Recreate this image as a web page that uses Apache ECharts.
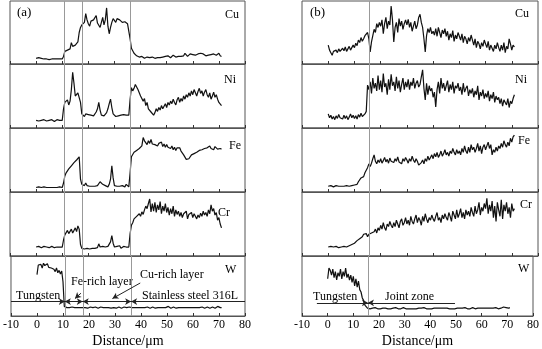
<!DOCTYPE html>
<html>
<head>
<meta charset="utf-8">
<script src="https://cdn.jsdelivr.net/npm/echarts@6/dist/echarts.min.js"></script>
<style>
  html, body { margin: 0; padding: 0; background: #fff; }
  #chart { width: 542px; height: 349px; }
</style>
</head>
<body>
<div id="chart"></div>
<script>
// EDS line scans across W / 316L joints, sampled every 0.5 μm from 0 to 71 μm
const X_START = 0;
const X_STEP = 0.5;

const elements = ['Cu', 'Ni', 'Fe', 'Cr', 'W'];

// (a) relative intensity, 0-100 of each strip
const aCu = [
  9,8,10,8,9,7,8,9,8,8,
  7,8,8,7,8,7,8,7,8,8,
  8,12,20,18,22,21,24,34,28,26,
  30,27,35,50,58,62,60,66,80,70,
  64,60,68,66,70,72,77,65,62,58,
  66,74,62,70,89,60,48,58,66,72,
  69,66,72,74,70,68,66,64,67,65,
  64,63,40,25,22,17,14,13,12,11,
  10,12,11,9,10,11,12,10,9,11,
  10,9,11,10,12,10,9,11,10,12,
  11,13,11,10,12,14,12,11,13,12,
  14,12,15,13,17,14,12,15,16,13,
  15,17,14,13,16,15,17,14,16,15,
  13,16,14,17,15,13,16,18,14,15,
  17,13,12
];
const aNi = [
  12,14,11,13,12,10,13,12,11,13,
  12,11,13,12,10,12,13,11,12,11,
  12,30,40,38,44,36,42,60,87,70,
  50,48,55,52,40,22,20,18,22,19,
  21,18,20,22,19,21,25,30,40,28,
  20,22,19,21,24,30,38,45,32,22,
  20,18,21,19,22,20,18,21,19,20,
  22,20,45,63,58,62,68,64,60,55,
  50,52,42,46,35,40,30,33,25,28,
  20,24,30,26,32,28,35,30,34,38,
  32,40,36,42,38,45,40,36,44,48,
  40,46,42,50,45,52,48,55,50,58,
  52,60,55,50,57,62,54,58,50,56,
  60,52,48,55,45,50,56,48,52,45,
  40,38,35
];
const aFe = [
  7,7,8,7,7,7,8,7,7,7,
  7,7,7,8,7,7,7,7,8,7,
  7,14,25,30,33,36,38,41,44,46,
  48,50,53,55,20,12,9,10,14,10,
  8,9,8,9,10,9,8,10,12,16,
  19,12,9,10,9,8,12,20,41,22,
  10,8,9,8,9,8,10,9,8,12,
  9,8,30,55,58,62,60,65,63,68,
  66,72,85,80,78,74,80,76,82,75,
  78,74,77,72,76,73,78,71,75,70,
  74,70,73,68,72,66,70,65,69,67,
  69,64,62,58,55,51,54,52,55,58,
  56,60,58,62,60,65,63,66,64,68,
  65,69,67,72,68,70,66,71,69,67,
  70,68,67
];
const aCr = [
  14,13,15,14,13,14,15,13,14,14,
  13,14,15,14,13,15,14,13,14,15,
  14,25,33,36,40,35,38,42,36,40,
  44,38,47,42,18,12,15,11,13,12,
  14,11,13,12,15,12,14,13,19,14,
  12,15,13,14,12,15,18,22,32,20,
  14,12,15,13,16,12,14,15,13,14,
  12,14,35,48,52,58,55,62,60,66,
  62,69,65,72,78,74,82,89,69,82,
  70,84,68,80,72,85,66,78,70,82,
  68,76,64,74,66,78,62,72,65,70,
  62,68,60,66,64,70,58,65,62,68,
  60,66,62,58,64,60,67,62,70,64,
  68,62,72,66,80,70,74,64,68,56,
  60,50,44
];
const aW = [
  69,85,82,86,80,88,84,82,87,81,
  84,80,83,78,74,80,72,76,70,75,
  57,16,15,14,15,14,13,15,14,14,
  15,14,13,14,15,14,13,14,15,13,
  14,15,13,14,13,15,14,13,14,15,
  13,14,15,14,13,14,15,13,14,14,
  15,13,14,15,14,13,14,15,13,14,
  14,15,13,14,15,14,13,14,16,14,
  13,14,15,14,13,15,14,13,14,15,
  14,13,15,14,13,14,15,14,13,14,
  15,16,14,13,14,15,14,13,15,14,
  13,14,15,14,13,14,15,14,13,14,
  15,14,13,14,15,14,13,15,14,13,
  14,15,14,13,14,15,14,13,15,16,
  15,14,14
];

// (b) relative intensity, 0-100 of each strip
const bCu = [
  30,22,18,14,20,17,22,18,24,20,
  18,25,21,27,20,24,28,22,26,30,
  26,33,29,38,34,42,36,40,45,48,
  50,40,19,35,45,55,50,64,58,66,
  60,70,48,64,74,56,68,62,92,70,
  35,58,66,50,72,60,68,55,64,70,
  62,71,58,66,52,60,68,56,62,74,
  79,66,58,40,19,45,56,50,58,48,
  52,46,56,44,58,50,42,54,48,56,
  44,52,38,48,42,53,36,46,40,50,
  44,38,48,34,44,40,32,42,36,46,
  38,30,40,26,36,32,24,34,28,38,
  32,26,36,22,30,28,20,30,24,34,
  26,20,30,22,34,18,28,24,40,32,
  22,30,27
];
const bNi = [
  22,16,20,14,18,13,19,15,21,16,
  18,14,20,15,19,13,17,22,16,20,
  15,19,14,21,17,23,18,20,22,26,
  67,60,72,54,78,62,70,58,82,60,
  74,56,85,64,70,52,76,60,84,66,
  72,58,80,62,74,56,68,78,60,72,
  64,76,60,72,66,78,62,70,74,64,
  68,80,91,62,44,70,52,66,58,62,
  48,56,33,60,72,54,78,62,70,58,
  66,74,56,68,60,72,54,66,62,70,
  58,64,52,70,56,62,66,50,60,54,
  62,48,58,52,66,44,56,50,60,46,
  54,48,58,42,52,46,56,40,50,44,
  48,38,46,34,44,40,36,46,32,42,
  38,46,52
];
const bFe = [
  9,9,10,9,8,9,10,9,9,8,
  9,10,9,9,10,8,9,9,10,9,
  11,13,12,16,18,22,20,24,30,34,
  38,44,40,45,52,58,48,44,50,46,
  52,45,49,54,47,51,45,53,48,50,
  46,52,48,55,47,50,44,52,48,54,
  50,45,52,48,56,50,46,52,48,42,
  40,46,50,44,52,48,56,50,54,58,
  52,60,55,62,54,58,64,56,60,66,
  58,62,56,64,60,68,62,58,66,60,
  64,58,68,62,72,64,60,70,62,74,
  66,70,62,68,76,64,72,60,70,74,
  66,72,78,68,74,58,66,62,70,64,
  72,68,76,70,80,74,70,78,72,84,
  78,86,89
];
const bCr = [
  14,13,15,13,14,12,15,14,13,15,
  14,13,15,12,14,13,16,15,18,17,
  20,18,24,22,27,25,30,34,32,35,
  30,34,31,36,33,38,42,36,44,40,
  48,42,52,44,40,50,46,54,48,44,
  52,46,56,50,44,54,58,48,52,60,
  50,56,48,62,54,50,58,64,52,60,
  56,48,62,54,66,58,52,60,56,64,
  58,54,62,68,56,60,52,64,58,66,
  60,56,68,62,54,70,64,58,72,60,
  66,74,60,68,58,72,64,70,62,76,
  68,62,78,66,72,84,64,76,70,82,
  74,90,66,80,70,86,60,78,54,84,
  72,62,88,58,80,70,84,66,76,60,
  82,70,74
];
const bW = [
  62,80,76,68,78,64,74,60,72,66,
  78,62,74,66,80,64,70,60,68,56,
  66,50,62,48,58,44,40,30,26,18,
  16,13,15,12,14,13,12,14,13,12,
  13,12,14,13,12,13,14,12,13,12,
  12,13,12,14,13,12,13,12,13,14,
  13,12,13,12,14,12,13,12,13,12,
  12,13,12,13,12,14,13,12,13,12,
  13,12,14,13,12,13,12,13,12,13,
  12,13,12,13,14,12,13,12,13,12,
  12,13,12,13,12,13,12,14,13,12,
  13,12,13,14,13,12,14,13,12,13,
  14,13,12,13,14,13,12,13,14,13,
  13,14,13,12,14,13,14,15,13,14,
  14,13,14
];

// interface positions (μm)
const aBounds = [10.7, 17.6, 36.2];
const bBounds = [15.7];

const panels = [
  { key: 'a', left: 10, width: 235, series: [aCu, aNi, aFe, aCr, aW], bounds: aBounds },
  { key: 'b', left: 302, width: 236, series: [bCu, bNi, bFe, bCr, bW], bounds: bBounds }
];
const stripTops = [1, 64, 128, 192, 256];
const stripHeights = [63, 64, 64, 64, 64];

const SERIF = '"Liberation Serif", "Times New Roman", serif';
const FRAME = '#555';

const toPairs = vals => vals.map((v, i) => [X_START + i * X_STEP, v]);

const grid = [], xAxis = [], yAxis = [], series = [];

panels.forEach((p, pi) => {
  p.series.forEach((vals, si) => {
    const idx = pi * 5 + si;
    const isBottom = si === 4;
    grid.push({
      left: p.left, width: p.width, top: stripTops[si], height: stripHeights[si],
      show: true, borderColor: FRAME, borderWidth: 1, backgroundColor: 'transparent'
    });
    xAxis.push({
      type: 'value', gridIndex: idx, min: -10, max: 80, interval: 10,
      axisLine: { show: true, lineStyle: { color: FRAME, width: 1 } },
      axisTick: { show: true, inside: true, length: 3, lineStyle: { color: '#333' } },
      axisLabel: { show: isBottom, color: '#000', fontFamily: SERIF, fontSize: 12, margin: 3 },
      splitLine: { show: false },
      name: isBottom ? 'Distance/\u03bcm' : '',
      nameLocation: 'middle', nameGap: 18,
      nameTextStyle: { color: '#000', fontFamily: SERIF, fontSize: 14 }
    });
    yAxis.push({ type: 'value', gridIndex: idx, min: 0, max: 100, show: false });

    const lineData = p.bounds.map(b => ({ xAxis: b }));
    series.push({
      type: 'line', xAxisIndex: idx, yAxisIndex: idx,
      data: toPairs(vals), showSymbol: false, symbol: 'none',
      lineStyle: { color: '#111', width: 1.2 },
      animation: false, silent: true,
      markLine: {
        silent: true, symbol: 'none', animation: false,
        label: { show: false },
        lineStyle: { color: '#999', width: 1, type: 'solid' },
        data: lineData
      }
    });
  });
});

// dark annotation segment, optional arrow head at its second end
const DARK = { color: '#222', width: 1 };
const segment = (x1, y1, x2, y2, arrow) => [
  { coord: [x1, y1], symbol: 'none', lineStyle: DARK },
  { coord: [x2, y2], symbol: arrow ? 'arrow' : 'none', symbolSize: [5, 6] }
];

// W strip of (a): region bar, interface arrows and layer pointers
const aBarY = 24;
const aWMarks = series[4].markLine.data;
aWMarks.push(segment(-10, aBarY, 80, aBarY, false));
aBounds.forEach(b => {
  aWMarks.push(segment(b - 2.4, aBarY, b, aBarY, true));
  aWMarks.push(segment(b + 2.4, aBarY, b, aBarY, true));
});
aWMarks.push(segment(16.9, 38, 14.6, 29, true));
aWMarks.push(segment(39.7, 55, 29, 29, true));

// W strip of (b)
const bBarY = 22;
const bWMarks = series[9].markLine.data;
bWMarks.push(segment(-4.2, bBarY, 49.6, bBarY, false));
bBounds.forEach(b => {
  bWMarks.push(segment(b - 2.4, bBarY, b, bBarY, true));
  bWMarks.push(segment(b + 2.4, bBarY, b, bBarY, true));
});

// element names and panel annotations
const elementPos = [
  [[225, 15], [224, 80], [229, 146], [218, 213], [225, 270]],
  [[515, 14], [515, 80], [518, 141], [520, 205], [518, 269]]
];
const textEl = (text, x, y, size) => ({
  type: 'text', x: x, y: y, silent: true,
  style: { text: text, fill: '#000', font: size + 'px ' + SERIF, align: 'left', verticalAlign: 'middle' }
});
const graphic = [];
elementPos.forEach(list => list.forEach((pos, i) => graphic.push(textEl(elements[i], pos[0], pos[1], 12))));
graphic.push(textEl('(a)', 17, 13, 13));
graphic.push(textEl('(b)', 310, 13, 13));
graphic.push(textEl('Tungsten', 16, 296, 12));
graphic.push(textEl('Fe-rich layer', 71, 282, 12));
graphic.push(textEl('Cu-rich layer', 140, 275, 12));
graphic.push(textEl('Stainless steel 316L', 142, 296, 12));
graphic.push(textEl('Tungsten', 313, 297, 12));
graphic.push(textEl('Joint zone', 385, 297, 12));

const chart = echarts.init(document.getElementById('chart'), null, { renderer: 'canvas' });
chart.setOption({
  backgroundColor: '#fff',
  animation: false,
  grid: grid,
  xAxis: xAxis,
  yAxis: yAxis,
  series: series,
  graphic: graphic
});
</script>
</body>
</html>
